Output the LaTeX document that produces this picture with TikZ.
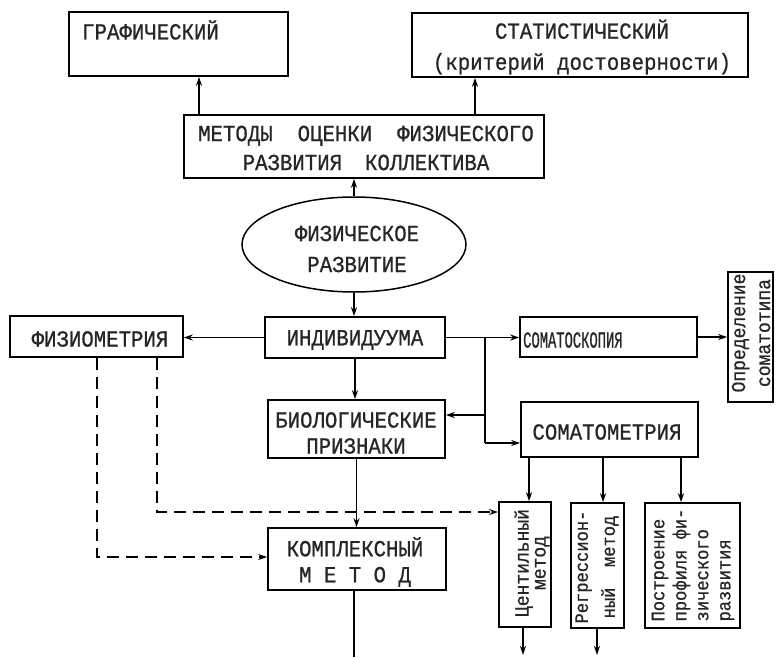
\documentclass[tikz,border=0pt]{standalone}
\usepackage{fontspec}
\newfontfamily\tw[FakeStretch=0.9,FakeBold=0.8]{Liberation Mono}
\newfontfamily\twn[FakeStretch=0.6,FakeBold=0.8]{Liberation Mono}
\usetikzlibrary{arrows.meta,shapes.geometric}
\tikzset{
  box/.style={draw, line width=1.6pt, inner sep=0pt},
  txt/.style={inner sep=0pt, text=black!85, font=\tw\fontsize{23}{29}\selectfont},
  rtxt/.style={inner sep=0pt, text=black!85, rotate=90},
  conn/.style={line width=1.7pt},
  arr/.style={line width=1.7pt, -{Stealth[length=9pt,width=6pt]}},
  dsh/.style={line width=1.6pt, dash pattern=on 12pt off 7pt, -{Stealth[length=9pt,width=6pt]}}
}
\begin{document}
\begin{tikzpicture}[x=1pt,y=-1pt]
\useasboundingbox (0,0) rectangle (777,657);
% boxes
\node[box, minimum width=219pt, minimum height=64pt] (graf) at (178.5,44) {};
\node[txt, anchor=west] (grafT) at (82,30) {ГРАФИЧЕСКИЙ};
\node[box, minimum width=336pt, minimum height=64pt] (stat) at (580,45) {};
\node[txt, align=center, font=\tw\fontsize{23}{31}\selectfont] (statT) at (582,47) {СТАТИСТИЧЕСКИЙ\\(критерий достоверности)};
\node[box, minimum width=360pt, minimum height=63pt] (metody) at (364,146.5) {};
\node[txt, align=center] (metodyT) at (366,148) {МЕТОДЫ\hspace{25pt}ОЦЕНКИ\hspace{25pt}ФИЗИЧЕСКОГО\\РАЗВИТИЯ\hspace{23pt}КОЛЛЕКТИВА};
\node[draw, ellipse, line width=1.5pt, minimum width=224pt, minimum height=95pt, inner sep=0pt] (ell) at (354,244.5) {};
\node[txt, align=center, font=\tw\fontsize{23}{31}\selectfont] (ellT) at (357,249) {ФИЗИЧЕСКОЕ\\РАЗВИТИЕ};
\node[box, minimum width=180pt, minimum height=41pt] (indiv) at (355,337.5) {};
\node[txt] (indivT) at (355,340) {ИНДИВИДУУМА};
\node[box, minimum width=173pt, minimum height=41pt] (fiziom) at (96.5,336.5) {};
\node[txt] (fiziomT) at (100,339) {ФИЗИОМЕТРИЯ};
\node[box, minimum width=177pt, minimum height=40pt] (skop) at (608.5,337) {};
\node[txt, anchor=west, font=\twn\fontsize{23}{29}\selectfont] (skopT) at (523,340) {СОМАТОСКОПИЯ};
\node[box, minimum width=45pt, minimum height=130pt] (opred) at (750.5,337) {};
\node[rtxt, align=center, font=\tw\fontsize{20}{25}\selectfont] (opredT) at (751,333) {Определение\\соматотипа};
\node[box, minimum width=177pt, minimum height=58pt] (biol) at (356.5,429) {};
\node[txt, align=center, font=\tw\fontsize{23}{26}\selectfont] (biolT) at (356,433) {БИОЛОГИЧЕСКИЕ\\ПРИЗНАКИ};
\node[box, minimum width=177pt, minimum height=55pt] (metr) at (609.5,429.5) {};
\node[txt] (metrT) at (607,432) {СОМАТОМЕТРИЯ};
\node[box, minimum width=178pt, minimum height=62pt] (kompl) at (357,559) {};
\node[txt, align=center, font=\tw\fontsize{23}{26}\selectfont] (komplT) at (355,562) {КОМПЛЕКСНЫЙ\\М Е Т О Д};
\node[box, minimum width=52pt, minimum height=125pt] (centil) at (525,564.5) {};
\node[rtxt, align=center, font=\tw\fontsize{20}{17}\selectfont] (centilT) at (532,563) {Центильный\\метод};
\node[box, minimum width=53pt, minimum height=125pt] (regres) at (597.5,565.5) {};
\node[rtxt, align=center, font=\tw\fontsize{19}{27}\selectfont] (regresT) at (597,567) {Регрессион-\\ный\ \ метод};
\node[box, minimum width=95pt, minimum height=125pt] (postr) at (692.5,565.5) {};
\node[rtxt, align=left, font=\tw\fontsize{19}{22}\selectfont] (postrT) at (693,565) {Построение\\профиля фи-\\зического\\развития};
% connectors
\coordinate (xg) at (199,0);
\coordinate (xs) at (475,0);
\draw[arr] (metody.north -| xg) -- (graf.south -| xg);
\draw[arr] (metody.north -| xs) -- (stat.south -| xs);
\draw[arr] (ell.north) -- (metody.south -| ell.north);
\draw[arr] (ell.south) -- (indiv.north -| ell.south);
\draw[arr] (indiv.west) -- (fiziom.east |- indiv.west);
\draw[arr] (indiv.east) -- (skop.west |- indiv.east);
\draw[arr] (skop.east) -- (opred.west |- skop.east);
\coordinate (br) at (485,0);
\coordinate (bA) at (485,415);
\coordinate (bB) at (485,443);
\draw[conn] (indiv.east -| br) -- (bB);
\draw[arr] (bA) -- (biol.east |- bA);
\draw[arr] (bB) -- (metr.west |- bB);
\draw[arr] (indiv.south) -- (biol.north -| indiv.south);
\draw[arr] (biol.south) -- (kompl.north -| biol.south);
\coordinate (kend) at (354,657);
\draw[conn] (kompl.south -| kend) -- (kend);
\coordinate (c1) at (529,0);
\coordinate (c2) at (603,0);
\coordinate (c3) at (681,0);
\draw[arr] (metr.south -| c1) -- (centil.north -| c1);
\draw[arr] (metr.south -| c2) -- (regres.north -| c2);
\draw[arr] (metr.south -| c3) -- (postr.north -| c3);
\coordinate (e1) at (523,655);
\coordinate (e2) at (597,655);
\draw[arr] (centil.south -| e1) -- (e1);
\draw[arr] (regres.south -| e2) -- (e2);
\coordinate (d1) at (97,557);
\coordinate (d2) at (157,512);
\draw[dsh] (fiziom.south -| d1) -- (d1) -- (kompl.west |- d1);
\draw[dsh] (fiziom.south -| d2) -- (d2) -- (centil.west |- d2);
\end{tikzpicture}
\end{document}
